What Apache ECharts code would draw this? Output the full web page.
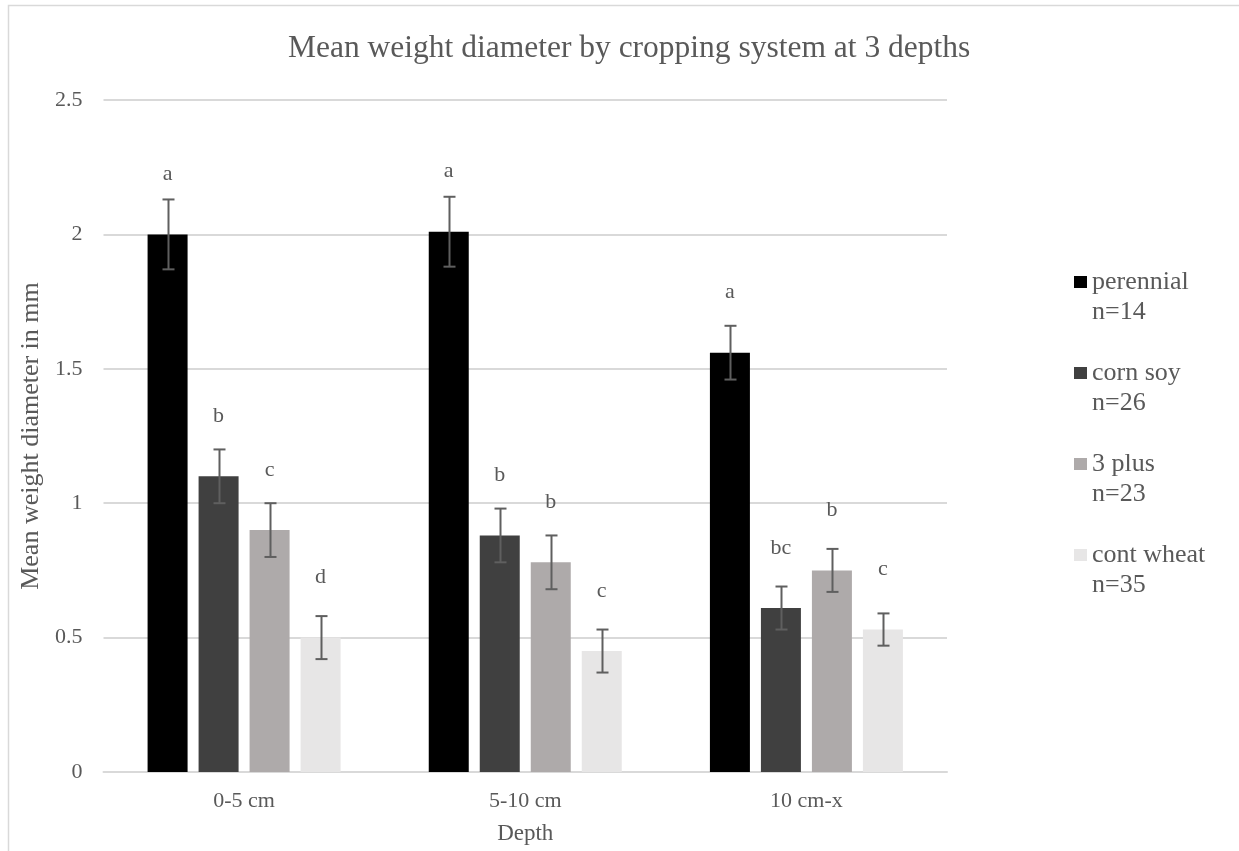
<!DOCTYPE html>
<html>
<head>
<meta charset="utf-8">
<title>Mean weight diameter by cropping system</title>
<script src="https://cdn.jsdelivr.net/npm/echarts@6/dist/echarts.min.js"></script>
<style>
  html, body { margin: 0; padding: 0; background: #ffffff; }
  #chart { width: 1239px; height: 851px; }
</style>
</head>
<body>
<div id="chart"></div>
<script>
// Soil depth classes (x categories)
const depths = ['0-5 cm', '5-10 cm', '10 cm-x'];

// Cropping systems and their sample sizes
const systems = ['perennial', 'corn soy', '3 plus', 'cont wheat'];
const sampleSizes = [14, 26, 23, 35];

// Mean weight diameter (mm) per depth
const perennial = [2.00, 2.01, 1.56];
const cornSoy   = [1.10, 0.88, 0.61];
const threePlus = [0.90, 0.78, 0.75];
const contWheat = [0.50, 0.45, 0.53];

// Standard error (mm) per depth
const perennialErr = [0.13, 0.13, 0.10];
const cornSoyErr   = [0.10, 0.10, 0.08];
const threePlusErr = [0.10, 0.10, 0.08];
const contWheatErr = [0.08, 0.08, 0.06];

// Significance letters per depth
const perennialSig = ['a', 'a', 'a'];
const cornSoySig   = ['b', 'b', 'bc'];
const threePlusSig = ['c', 'b', 'b'];
const contWheatSig = ['d', 'c', 'c'];

// Value axis ticks
const yMin = 0, yMax = 2.5, yStep = 0.5;

const means = [perennial, cornSoy, threePlus, contWheat];
const errs = [perennialErr, cornSoyErr, threePlusErr, contWheatErr];
const sigs = [perennialSig, cornSoySig, threePlusSig, contWheatSig];
const colors = ['#000000', '#404040', '#aeaaaa', '#e7e6e6'];

const FONT = '"Liberation Serif", "Times New Roman", serif';
const TEXT = '#595959';
const BAR_W = 40;
const BAR_GAP = 11;

const barSeries = systems.map((name, k) => ({
  name: name,
  type: 'bar',
  data: means[k],
  barWidth: BAR_W,
  barGap: (BAR_GAP / BAR_W * 100) + '%',
  itemStyle: { color: colors[k] },
  label: {
    show: true,
    position: 'top',
    distance: 49,
    formatter: p => sigs[k][p.dataIndex],
    color: TEXT,
    fontFamily: FONT,
    fontSize: 22
  },
  z: 2
}));

// Error bars: [category, low, high, system index]
const errData = [];
systems.forEach((_, k) => {
  means[k].forEach((v, i) => {
    errData.push([i, v - errs[k][i], v + errs[k][i], k]);
  });
});

const errorSeries = {
  type: 'custom',
  name: 'error',
  data: errData,
  encode: { x: 0, y: [1, 2] },
  z: 5,
  silent: true,
  renderItem: function (params, api) {
    const k = api.value(3);
    const dx = (k - (systems.length - 1) / 2) * (BAR_W + BAR_GAP);
    const lo = api.coord([api.value(0), api.value(1)]);
    const hi = api.coord([api.value(0), api.value(2)]);
    const x = Math.round(lo[0] + dx) + 0.5;
    const cap = 6;
    const style = { stroke: '#5f5f5f', lineWidth: 2, fill: null };
    return {
      type: 'group',
      children: [
        { type: 'line', shape: { x1: x, y1: hi[1], x2: x, y2: lo[1] }, style: style },
        { type: 'line', shape: { x1: x - cap, y1: hi[1], x2: x + cap, y2: hi[1] }, style: style },
        { type: 'line', shape: { x1: x - cap, y1: lo[1], x2: x + cap, y2: lo[1] }, style: style }
      ]
    };
  }
};

const chart = echarts.init(document.getElementById('chart'), null, { renderer: 'canvas' });
chart.setOption({
  backgroundColor: '#ffffff',
  animation: false,
  textStyle: { fontFamily: FONT },
  graphic: [{
    type: 'rect',
    shape: { x: 8.5, y: 5.5, width: 1300, height: 900 },
    style: { fill: null, stroke: '#d9d9d9', lineWidth: 1.5 },
    silent: true
  }],
  title: {
    text: 'Mean weight diameter by cropping system at 3 depths',
    left: 283,
    top: 28,
    textStyle: { color: TEXT, fontFamily: FONT, fontSize: 31.5, fontWeight: 'normal' }
  },
  legend: {
    orient: 'vertical',
    left: 1069,
    top: 232,
    itemWidth: 13,
    itemHeight: 12,
    itemGap: 1,
    icon: 'rect',
    data: systems,
    formatter: name => '\n' + name + '\nn=' + sampleSizes[systems.indexOf(name)],
    textStyle: { color: TEXT, fontFamily: FONT, fontSize: 26, lineHeight: 30 }
  },
  grid: { left: 103.5, right: 292, top: 100, bottom: 79 },
  xAxis: {
    type: 'category',
    data: depths,
    name: 'Depth',
    nameLocation: 'middle',
    nameGap: 50,
    nameTextStyle: { color: TEXT, fontFamily: FONT, fontSize: 23 },
    axisLine: { lineStyle: { color: '#d9d9d9', width: 2 } },
    axisTick: { show: false },
    axisLabel: { color: TEXT, fontFamily: FONT, fontSize: 22, margin: 18 }
  },
  yAxis: {
    type: 'value',
    min: yMin,
    max: yMax,
    interval: yStep,
    name: 'Mean weight diameter in mm',
    nameLocation: 'middle',
    nameGap: 57,
    nameTextStyle: { color: TEXT, fontFamily: FONT, fontSize: 26 },
    axisLine: { show: false },
    axisTick: { show: false },
    axisLabel: { color: TEXT, fontFamily: FONT, fontSize: 22, margin: 21 },
    splitLine: { lineStyle: { color: '#d9d9d9', width: 2 } }
  },
  series: barSeries.concat([errorSeries])
});
</script>
</body>
</html>
